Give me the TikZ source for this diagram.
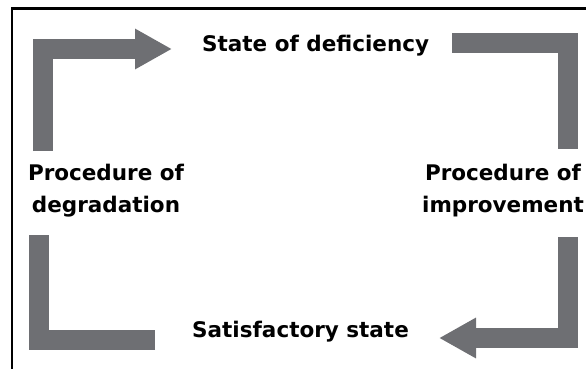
\documentclass[tikz,border=0pt]{standalone}
\usepackage{fontspec}
\setmainfont{DejaVu Sans}
\usetikzlibrary{positioning,arrows.meta}
\definecolor{barGray}{RGB}{110,111,115}

\begin{document}
\begin{tikzpicture}[x=1pt,y=-1pt,
	label/.style={font=\bfseries\fontsize{21.5}{32}\selectfont,inner sep=0pt,align=center},
	flow/.style={draw=barGray,line width=20pt,line join=miter},
	head/.style={-{Triangle[length=37pt,width=38pt]}}]
	\useasboundingbox (0,0) rectangle (586,369);
	% frame (top and left only)
	\draw[line width=2.5pt] (12,369) |- (586,8.5);
	%% states and procedures
	\node[label,anchor=base west] (def) at (202,52) {State of deficiency};
	\node[label,anchor=base west] (sat) at (192,337) {Satisfactory state};
	\node[label,anchor=north] (deg) at (106,164) {Procedure of\\degradation};
	\node[label,anchor=north] (imp) at (503,164) {Procedure of\\improvement};
	% ends of the bars
	\coordinate (deg-up) at (43,151);
	\coordinate (def-in) at (172,49);
	\coordinate (def-out) at (452,43);
	\coordinate (imp-up) at (568,149);
	\coordinate (imp-down) at (568,237);
	\coordinate (sat-in) at (439,338);
	\coordinate (sat-out) at (155,340);
	\coordinate (deg-down) at (39,235);
	% bent bars
	\draw[flow,head] (deg-up) |- (def-in);
	\draw[flow] (def-out) -| (imp-up);
	\draw[flow,head] (imp-down) |- (sat-in);
	\draw[flow] (sat-out) -| (deg-down);
\end{tikzpicture}
\end{document}
